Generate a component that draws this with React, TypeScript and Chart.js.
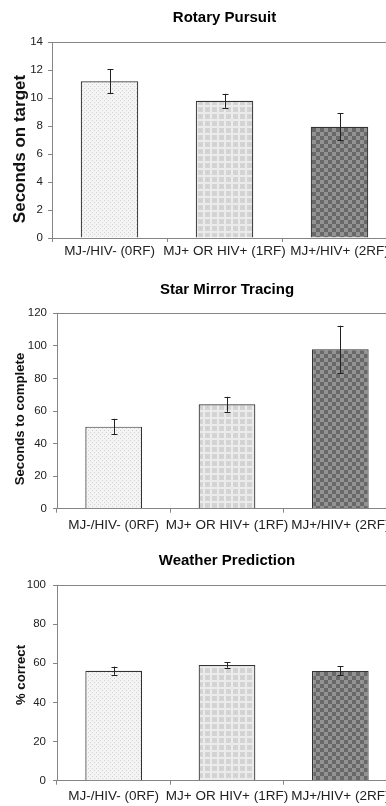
import React, { useEffect, useRef } from 'react';
import { Chart, registerables } from 'chart.js';

Chart.register(...registerables);
Chart.defaults.font.family = "'Liberation Sans', Arial, Helvetica, sans-serif";

const categories = ['MJ-/HIV- (0RF)', 'MJ+ OR HIV+ (1RF)', 'MJ+/HIV+ (2RF)'];

const rotaryMeans = [11.2, 9.8, 7.95];
const rotaryErrors = [0.85, 0.5, 0.97];
const rotaryAxis = [0, 14, 2]; // min, max, step

const starMeans = [50.4, 64.1, 97.9];
const starErrors = [4.8, 4.6, 14.5];
const starAxis = [0, 120, 20];

const weatherMeans = [56.2, 59.1, 56.1];
const weatherErrors = [2.1, 1.4, 2.3];
const weatherAxis = [0, 100, 20];

const AXIS = '#858585';
const TEXT = '#222';

type PanelCfg = {
  title: string;
  yTitle: string;
  means: number[];
  errors: number[];
  axis: number[];
  top: number;
  height: number;
  left: number;
  bottom: number;
  titlePadTop: number;
  titlePadBottom: number;
  xPad: number;
  yPad: number;
  yTitleX: number;
  yTitleY: number;
  yTitleSize: number;
};

const panels: PanelCfg[] = [
  {
    title: 'Rotary Pursuit', yTitle: 'Seconds on target', means: rotaryMeans, errors: rotaryErrors, axis: rotaryAxis,
    top: 0, height: 270, left: 52, bottom: 238, titlePadTop: 9, titlePadBottom: 15, xPad: 0.9, yPad: 5,
    yTitleX: 20, yTitleY: 149, yTitleSize: 17,
  },
  {
    title: 'Star Mirror Tracing', yTitle: 'Seconds to complete', means: starMeans, errors: starErrors, axis: starAxis,
    top: 270, height: 270, left: 57, bottom: 238.7, titlePadTop: 11, titlePadBottom: 14.3, xPad: 4.2, yPad: 6,
    yTitleX: 20, yTitleY: 149, yTitleSize: 13.2,
  },
  {
    title: 'Weather Prediction', yTitle: '% correct', means: weatherMeans, errors: weatherErrors, axis: weatherAxis,
    top: 540, height: 266, left: 57, bottom: 240.7, titlePadTop: 11.7, titlePadBottom: 15.3, xPad: 3.9, yPad: 7,
    yTitleX: 21.7, yTitleY: 135, yTitleSize: 13.2,
  },
];

function makePattern(kind: number): CanvasPattern | string {
  const c = document.createElement('canvas');
  const s = kind === 0 ? 4 : kind === 1 ? 7 : 8;
  c.width = s;
  c.height = s;
  const g = c.getContext('2d');
  if (!g) return '#ddd';
  if (kind === 0) {
    g.fillStyle = '#f4f4f4';
    g.fillRect(0, 0, s, s);
    g.fillStyle = '#d2d2d2';
    g.fillRect(0, 0, 1, 1);
    g.fillRect(2, 2, 1, 1);
  } else if (kind === 1) {
    g.fillStyle = '#d4d4d4';
    g.fillRect(0, 0, s, s);
    g.fillStyle = '#ebebeb';
    g.fillRect(0, 0, s, 2);
    g.fillRect(0, 0, 2, s);
    g.fillStyle = '#c8c8c8';
    g.fillRect(4, 4, 1, 1);
  } else {
    g.fillStyle = '#939393';
    g.fillRect(0, 0, s, s);
    g.fillStyle = '#686868';
    g.fillRect(0, 0, 4, 4);
    g.fillRect(4, 4, 4, 4);
  }
  return g.createPattern(c, 'repeat') || '#ddd';
}

function Panel({ cfg }: { cfg: PanelCfg }) {
  const ref = useRef<HTMLCanvasElement | null>(null);
  useEffect(() => {
    const canvas = ref.current;
    if (!canvas) return;
    const patterns = [makePattern(0), makePattern(1), makePattern(2)];

    const errorPlugin = {
      id: 'errorBars' + cfg.top,
      afterDatasetsDraw(chart: any) {
        const ctx = chart.ctx;
        const xs = chart.scales.x;
        const ys = chart.scales.y;
        ctx.save();
        ctx.strokeStyle = '#222';
        ctx.lineWidth = 1;
        cfg.means.forEach((m, i) => {
          const px = Math.round(xs.getPixelForValue(i)) + 0.5;
          const t = ys.getPixelForValue(m + cfg.errors[i]);
          const b = ys.getPixelForValue(m - cfg.errors[i]);
          ctx.beginPath();
          ctx.moveTo(px, t);
          ctx.lineTo(px, b);
          ctx.moveTo(px - 3, Math.round(t) + 0.5);
          ctx.lineTo(px + 3, Math.round(t) + 0.5);
          ctx.moveTo(px - 3, Math.round(b) + 0.5);
          ctx.lineTo(px + 3, Math.round(b) + 0.5);
          ctx.stroke();
        });
        ctx.restore();
      },
    };

    const framePlugin = {
      id: 'frame' + cfg.top,
      afterDraw(chart: any) {
        const ctx = chart.ctx;
        const a = chart.chartArea;
        ctx.save();
        ctx.strokeStyle = AXIS;
        ctx.lineWidth = 1;
        const yy = Math.round(a.top) + 0.5;
        ctx.beginPath();
        ctx.moveTo(a.left, yy);
        ctx.lineTo(a.right, yy);
        ctx.stroke();
        ctx.translate(cfg.yTitleX, cfg.yTitleY);
        ctx.rotate(-Math.PI / 2);
        ctx.fillStyle = '#111';
        ctx.font = `bold ${cfg.yTitleSize}px 'Liberation Sans', Arial, sans-serif`;
        ctx.textAlign = 'center';
        ctx.textBaseline = 'middle';
        ctx.fillText(cfg.yTitle, 0, 0);
        ctx.restore();
      },
    };

    const chart = new Chart(canvas, {
      type: 'bar',
      data: {
        labels: categories,
        datasets: [
          {
            data: cfg.means,
            backgroundColor: patterns as any,
            borderColor: '#333',
            borderWidth: 1.2,
            barPercentage: 0.5,
            categoryPercentage: 1,
          },
        ],
      },
      options: {
        animation: false,
        responsive: false,
        devicePixelRatio: 1,
        layout: { padding: { left: 0, right: 1, top: 0, bottom: 0 } },
        plugins: {
          legend: { display: false },
          tooltip: { enabled: false },
          title: {
            display: true,
            text: cfg.title,
            fullSize: false,
            color: '#000',
            font: { size: 15, weight: 'bold' },
            padding: { top: cfg.titlePadTop, bottom: cfg.titlePadBottom },
          },
        },
        scales: {
          x: {
            grid: { display: true, drawOnChartArea: false, drawTicks: true, tickLength: 4, color: AXIS, offset: true },
            border: { color: AXIS, width: 1 },
            ticks: { color: TEXT, font: { size: 13.5 }, padding: cfg.xPad, maxRotation: 0, autoSkip: false },
            afterFit: (s: any) => {
              s.height = cfg.height - cfg.bottom;
            },
          },
          y: {
            min: cfg.axis[0],
            max: cfg.axis[1],
            grid: { display: true, drawOnChartArea: false, drawTicks: true, tickLength: 4, color: AXIS },
            border: { color: AXIS, width: 1 },
            ticks: { stepSize: cfg.axis[2], color: TEXT, font: { size: 11.5 }, padding: cfg.yPad },
            afterFit: (s: any) => {
              s.width = cfg.left;
            },
          },
        },
      } as any,
      plugins: [errorPlugin, framePlugin],
    });
    return () => chart.destroy();
  }, [cfg]);

  return (
    <canvas
      ref={ref}
      width={398}
      height={cfg.height}
      style={{ position: 'absolute', left: 0, top: cfg.top, width: 398, height: cfg.height, display: 'block' }}
    />
  );
}

export default function App() {
  return (
    <div
      style={{
        position: 'fixed',
        left: 0,
        top: 0,
        width: 386,
        height: 806,
        overflow: 'hidden',
        background: '#fff',
      }}
    >
      {panels.map((p) => (
        <Panel key={p.title} cfg={p} />
      ))}
    </div>
  );
}
